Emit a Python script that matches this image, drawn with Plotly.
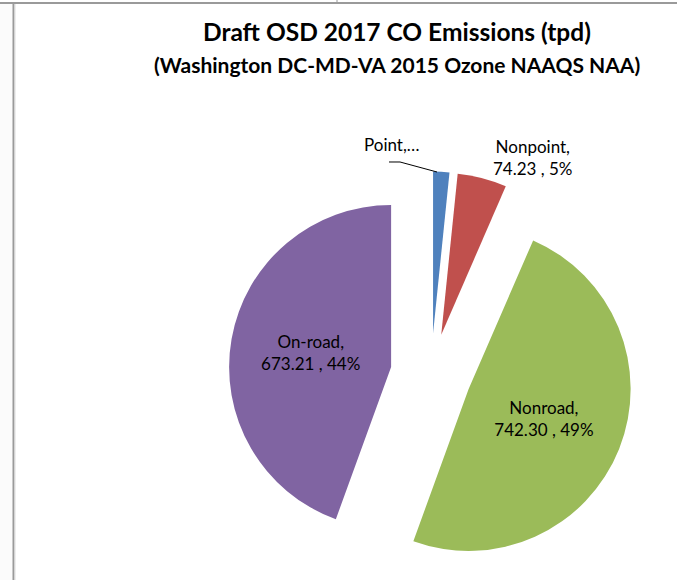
import plotly.graph_objects as go

# ---- data ----
categories = ["Point", "Nonpoint", "Nonroad", "On-road"]
values = [24.5, 74.23, 742.30, 673.21]
colors = ["#4F81BD", "#C0504D", "#9BBB59", "#8064A2"]
title_line1 = "Draft OSD 2017 CO Emissions (tpd)"
title_line2 = "(Washington DC-MD-VA 2015 Ozone NAAQS NAA)"
point_label = "Point,…"

W, H = 677, 580
FONT = "Lato, Carlito, Calibri, sans-serif"

# pie box: center (431,374) px, 405 px square (radius 162 with 25% explosion)
cx, cy, half = 431, 374, 202.5
dom_x = [(cx - half) / W, (cx + half) / W]
dom_y = [(H - cy - half) / H, (H - cy + half) / H]

textpos = ["none", "outside", "inside", "inside"]

fig = go.Figure(go.Pie(
    labels=categories,
    values=values,
    sort=False,
    direction="clockwise",
    rotation=0,
    pull=[0.25] * len(values),
    marker=dict(colors=colors),
    texttemplate="%{label},<br>%{value:.2f} , %{percent:.0%}",
    textposition=textpos,
    insidetextorientation="horizontal",
    textfont=dict(family=FONT, size=17, color="#000000"),
    domain=dict(x=dom_x, y=dom_y),
    showlegend=False,
    hoverinfo="label+value+percent",
))


def px(x):
    return x / W


def py(y):
    return 1 - y / H


annotations = [
    dict(text="<b>%s</b>" % title_line1, x=px(397), y=py(31), xref="paper", yref="paper",
         showarrow=False, xanchor="center", yanchor="middle",
         font=dict(family=FONT, size=24.5, color="#000000")),
    dict(text="<b>%s</b>" % title_line2, x=px(397), y=py(64), xref="paper", yref="paper",
         showarrow=False, xanchor="center", yanchor="middle",
         font=dict(family=FONT, size=21, color="#000000")),
    dict(text=point_label, x=px(392), y=py(144), xref="paper", yref="paper",
         showarrow=False, xanchor="center", yanchor="middle",
         font=dict(family=FONT, size=17, color="#000000")),
]

shapes = [
    dict(type="rect", xref="paper", yref="paper", x0=0, x1=px(13), y0=0, y1=py(3),
         fillcolor="#fbfbfb", line=dict(width=0), layer="below"),
    dict(type="line", xref="paper", yref="paper", x0=0, x1=1, y0=py(3), y1=py(3),
         line=dict(color="#9a9a9a", width=2)),
    dict(type="line", xref="paper", yref="paper", x0=px(13.5), x1=px(13.5), y0=0, y1=py(3),
         line=dict(color="#9a9a9a", width=2)),
    dict(type="line", xref="paper", yref="paper", x0=px(15), x1=px(15), y0=0, y1=py(4),
         line=dict(color="#dddddd", width=1)),
    dict(type="line", xref="paper", yref="paper", x0=px(337), x1=px(337), y0=py(3), y1=1,
         line=dict(color="#9a9a9a", width=1)),
    # leader line for the Point label
    dict(type="path", xref="paper", yref="paper",
         path="M %f,%f L %f,%f L %f,%f" % (px(389), py(162), px(400), py(162), px(437), py(172)),
         line=dict(color="#000000", width=1)),
]

fig.update_layout(
    autosize=True,
    margin=dict(l=0, r=0, t=0, b=0, autoexpand=False),
    showlegend=False,
    paper_bgcolor="#ffffff",
    plot_bgcolor="#ffffff",
    annotations=annotations,
    shapes=shapes,
)

fig.write_html(
    "out.html",
    config={"displayModeBar": False, "responsive": True},
    default_width="100vw", default_height="100vh",
    post_script="document.body.style.margin='0';document.body.style.overflow='hidden';",
)
